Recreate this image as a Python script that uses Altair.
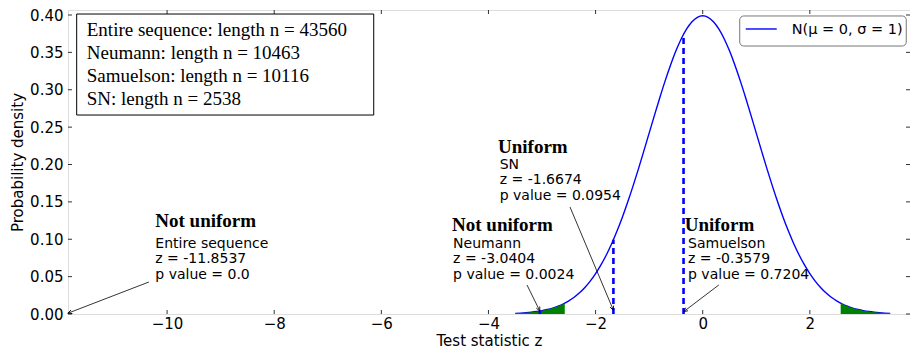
import math
import altair as alt
import pandas as pd

# ---------------- data ----------------
# standard normal density N(0,1)
curve_z = [-3.5, -3.4, -3.3, -3.2, -3.1, -3.0, -2.9, -2.8, -2.7, -2.6, -2.5, -2.4, -2.3, -2.2, -2.1,
           -2.0, -1.9, -1.8, -1.7, -1.6, -1.5, -1.4, -1.3, -1.2, -1.1, -1.0, -0.9, -0.8, -0.7, -0.6,
           -0.5, -0.4, -0.3, -0.2, -0.1, 0.0, 0.1, 0.2, 0.3, 0.4, 0.5, 0.6, 0.7, 0.8, 0.9, 1.0,
           1.1, 1.2, 1.3, 1.4, 1.5, 1.6, 1.7, 1.8, 1.9, 2.0, 2.1, 2.2, 2.3, 2.4, 2.5, 2.6, 2.7,
           2.8, 2.9, 3.0, 3.1, 3.2, 3.3, 3.4, 3.5]
curve_d = [0.00087, 0.00123, 0.00172, 0.00238, 0.00327, 0.00443, 0.00595, 0.00792, 0.01042, 0.01358,
           0.01753, 0.02239, 0.02833, 0.03547, 0.04398, 0.05399, 0.06562, 0.07895, 0.09405, 0.11092,
           0.12952, 0.14973, 0.17137, 0.19419, 0.21785, 0.24197, 0.26609, 0.28969, 0.31225, 0.33322,
           0.35207, 0.36827, 0.38139, 0.39104, 0.39695, 0.39894, 0.39695, 0.39104, 0.38139, 0.36827,
           0.35207, 0.33322, 0.31225, 0.28969, 0.26609, 0.24197, 0.21785, 0.19419, 0.17137, 0.14973,
           0.12952, 0.11092, 0.09405, 0.07895, 0.06562, 0.05399, 0.04398, 0.03547, 0.02833, 0.02239,
           0.01753, 0.01358, 0.01042, 0.00792, 0.00595, 0.00443, 0.00327, 0.00238, 0.00172, 0.00123,
           0.00087]
curve_label = "N(μ = 0, σ = 1)"

# shaded rejection tails (|z| > 2.576)
left_tail_z = [-3.5, -3.4, -3.3, -3.2, -3.1, -3.0, -2.9, -2.8, -2.7, -2.6, -2.576]
left_tail_d = [0.00087, 0.00123, 0.00172, 0.00238, 0.00327, 0.00443, 0.00595, 0.00792, 0.01042, 0.01358, 0.01446]
right_tail_z = [2.576, 2.6, 2.7, 2.8, 2.9, 3.0, 3.1, 3.2, 3.3, 3.4, 3.5]
right_tail_d = [0.01446, 0.01358, 0.01042, 0.00792, 0.00595, 0.00443, 0.00327, 0.00238, 0.00172, 0.00123, 0.00087]

# test results
sample_names = ["Entire sequence", "Neumann", "Samuelson", "SN"]
sample_n = [43560, 10463, 10116, 2538]
sample_z = [-11.8537, -3.0404, -0.3579, -1.6674]
sample_p = ["0.0", "0.0024", "0.7204", "0.0954"]
sample_pdf = [0.0, 0.00393, 0.37419, 0.09935]
sample_verdict = ["Not uniform", "Not uniform", "Uniform", "Uniform"]

# annotation anchors (data coordinates)
verdict_x = [-10.22, -4.68, -0.336, -3.822]
verdict_y = [0.1164, 0.1117, 0.1117, 0.2155]
detail_x = [-10.22, -4.66, -0.274, -3.79]
detail_y = [0.0883, 0.0883, 0.0883, 0.1944]
line_step = 0.0207
arrow_start_x = [-10.34, -3.28, 0.30, -2.478]
arrow_start_y = [0.0428, 0.0388, 0.0388, 0.1432]
arrow_end_y = [0.001, 0.0039, 0.003, 0.005]

x_ticks = [-10, -8, -6, -4, -2, 0, 2, 4]
y_ticks = [0.0, 0.05, 0.10, 0.15, 0.20, 0.25, 0.30, 0.35, 0.40]

X_MIN, X_MAX = -11.85, 3.87
Y_MIN, Y_MAX = 0.0, 0.40669
W, H = 842, 304

# ---------------- tables ----------------
curve_df = pd.DataFrame({"z": curve_z, "d": curve_d})
left_df = pd.DataFrame({"z": left_tail_z, "d": left_tail_d})
right_df = pd.DataFrame({"z": right_tail_z, "d": right_tail_d})
samples_df = pd.DataFrame({"z": sample_z, "pdf": sample_pdf, "zero": 0.0})

verdict_df = pd.DataFrame({"x": verdict_x, "y": verdict_y, "t": sample_verdict})
rows = []
for i in range(4):
    lines = [sample_names[i], f"z = {sample_z[i]}", f"p value = {sample_p[i]}"]
    for k, ln in enumerate(lines):
        rows.append({"x": detail_x[i], "y": detail_y[i] - k * line_step, "t": ln})
detail_df = pd.DataFrame(rows)

xpx = W / (X_MAX - X_MIN)
ypx = H / (Y_MAX - Y_MIN)
arrows = []
for i in range(4):
    dx = (sample_z[i] - arrow_start_x[i]) * xpx
    dy = -(arrow_end_y[i] - arrow_start_y[i]) * ypx
    ang = math.degrees(math.atan2(dx, -dy)) % 360
    arrows.append({"x": arrow_start_x[i], "y": arrow_start_y[i],
                   "x2": sample_z[i], "y2": arrow_end_y[i], "ang": ang})
arrow_df = pd.DataFrame(arrows)

box_lines = [f"{sample_names[i]}: length n = {sample_n[i]}" for i in range(4)]
box_df = pd.DataFrame({"t": box_lines, "y": [0.3719, 0.3411, 0.3104, 0.2797], "x": -11.50})
box_rect = pd.DataFrame({"x": [-11.688], "x2": [-6.142], "y": [0.4013], "y2": [0.2662]})

# legend (drawn as annotation)
leg_rect = pd.DataFrame({"x": [0.691], "x2": [3.80], "y": [0.3987], "y2": [0.3585]})
leg_line = pd.DataFrame({"x": [0.803], "x2": [1.382], "y": [0.3813]})
leg_text = pd.DataFrame({"x": [1.662], "y": [0.3745], "t": [curve_label]})

tick_len_y = 4 / ypx
tick_len_x = 4 / xpx
in_x = [v for v in x_ticks if X_MIN < v < X_MAX]
xt_df = pd.DataFrame({"v": in_x, "b0": Y_MIN, "b1": Y_MIN + tick_len_y,
                      "t0": Y_MAX, "t1": Y_MAX - tick_len_y})
yt_df = pd.DataFrame({"v": y_ticks, "l0": X_MIN, "l1": X_MIN + tick_len_x,
                      "r0": X_MAX, "r1": X_MAX - tick_len_x})

xs = alt.Scale(domain=[X_MIN, X_MAX], nice=False, zero=False)
ys = alt.Scale(domain=[Y_MIN, Y_MAX], nice=False, zero=False)

x_axis = alt.Axis(
    values=in_x, tickCount=20, title="Test statistic z", ticks=False, domain=False, grid=False,
    labelFontSize=15, labelFont="DejaVu Sans", labelPadding=2, labelColor="black",
    titleFontSize=15, titleFont="DejaVu Sans", titleFontWeight="normal", titlePadding=2,
    titleColor="black", labelFlush=False, labelOverlap=False)
y_axis = alt.Axis(
    values=y_ticks, tickCount=20, format=".2f", title="Probability density", ticks=False,
    domain=False, grid=False, labelFontSize=15, labelFont="DejaVu Sans", labelPadding=5,
    labelColor="black", titleFontSize=15, titleFont="DejaVu Sans", titleFontWeight="normal",
    titlePadding=4, titleColor="black", labelFlush=False, labelOverlap=False)


def X(f):
    return alt.X(f, type="quantitative", scale=xs, axis=x_axis, title="Test statistic z")


def Y(f):
    return alt.Y(f, type="quantitative", scale=ys, axis=y_axis, title="Probability density")


# ---------------- layers ----------------
curve = alt.Chart(curve_df).mark_line(strokeWidth=1.4, interpolate="monotone", color="#0000ff").encode(
    x=X("z"), y=Y("d"))

tail_l = alt.Chart(left_df).mark_area(color="#008000", opacity=1).encode(x=X("z"), y=Y("d"))
tail_r = alt.Chart(right_df).mark_area(color="#008000", opacity=1).encode(x=X("z"), y=Y("d"))

dashes = alt.Chart(samples_df).mark_rule(color="#0000ff", strokeWidth=2.6, strokeDash=[6, 4]).encode(
    x=X("z"), y=Y("zero"), y2="pdf:Q")

arrow_lines = alt.Chart(arrow_df).mark_rule(color="black", strokeWidth=0.8).encode(
    x=X("x"), y=Y("y"), x2="x2:Q", y2="y2:Q")
arrow_heads = alt.Chart(arrow_df).mark_point(
    shape="M-0.45,1L0,0L0.45,1", filled=False, color="black", strokeWidth=0.8, size=70, opacity=1
).encode(x=X("x2"), y=Y("y2"), angle=alt.Angle("ang:Q", scale=None))

verdicts = alt.Chart(verdict_df).mark_text(
    align="left", baseline="alphabetic", font="Liberation Serif", fontWeight="bold",
    fontSize=19, color="black"
).encode(x=X("x"), y=Y("y"), text="t:N")

details = alt.Chart(detail_df).mark_text(
    align="left", baseline="alphabetic", font="DejaVu Sans", fontSize=14, color="black"
).encode(x=X("x"), y=Y("y"), text="t:N")

box = alt.Chart(box_rect).mark_rect(fill="white", stroke="black", strokeWidth=1).encode(
    x=X("x"), x2="x2:Q", y=Y("y"), y2="y2:Q")
box_text = alt.Chart(box_df).mark_text(
    align="left", baseline="alphabetic", font="Liberation Serif", fontSize=19, color="black"
).encode(x=X("x"), y=Y("y"), text="t:N")

legend_box = alt.Chart(leg_rect).mark_rect(fill="white", stroke="#777", strokeWidth=1, cornerRadius=4).encode(
    x=X("x"), x2="x2:Q", y=Y("y"), y2="y2:Q")
legend_line = alt.Chart(leg_line).mark_rule(color="#0000ff", strokeWidth=1.4).encode(
    x=X("x"), x2="x2:Q", y=Y("y"))
legend_text = alt.Chart(leg_text).mark_text(
    align="left", baseline="alphabetic", font="DejaVu Sans", fontSize=14.5, color="black"
).encode(x=X("x"), y=Y("y"), text="t:N")

# inward ticks (bottom, top, left, right)
tick_color = "#333"
t_bottom = alt.Chart(xt_df).mark_rule(color=tick_color, strokeWidth=1).encode(
    x=X("v"), y=Y("b0"), y2="b1:Q")
t_top = alt.Chart(xt_df).mark_rule(color=tick_color, strokeWidth=1).encode(
    x=X("v"), y=Y("t0"), y2="t1:Q")
t_left = alt.Chart(yt_df).mark_rule(color=tick_color, strokeWidth=1).encode(
    y=Y("v"), x=X("l0"), x2="l1:Q")
t_right = alt.Chart(yt_df).mark_rule(color=tick_color, strokeWidth=1).encode(
    y=Y("v"), x=X("r0"), x2="r1:Q")

chart = alt.layer(
    curve, tail_l, tail_r, t_bottom, t_top, t_left, t_right, dashes, arrow_lines, arrow_heads,
    verdicts, details, box, box_text, legend_box, legend_line, legend_text,
).properties(
    width=W, height=H,
    autosize=alt.AutoSizeParams(type="none"),
    padding={"left": 60, "top": 2, "right": 0, "bottom": 36},
).configure_view(
    stroke="#222", strokeWidth=1
).configure_axis(
    labelOverlap=False
).configure(background="white")

chart.save("out.html", embed_options={"renderer": "svg", "actions": False})
